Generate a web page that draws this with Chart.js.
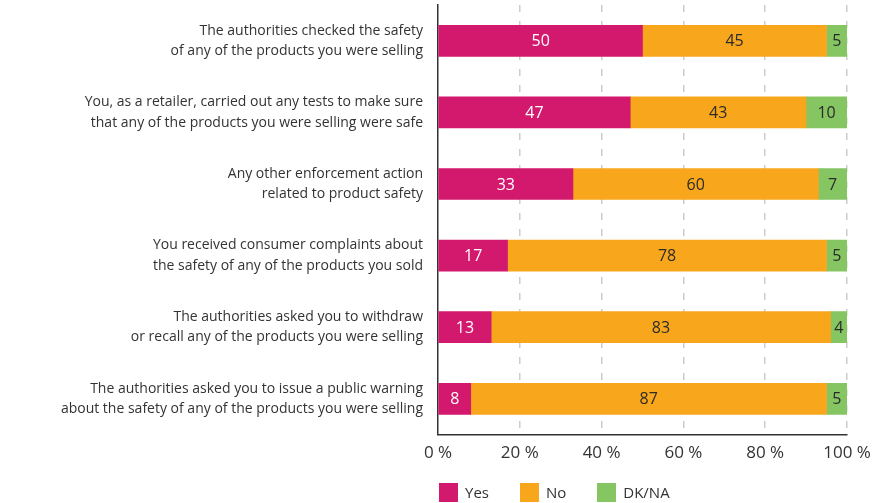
<!DOCTYPE html>
<html>
<head>
<meta charset="utf-8">
<script src="https://cdn.jsdelivr.net/npm/chart.js@4/dist/chart.umd.min.js"></script>
<style>
	body { margin: 0; background: #fff; }
	#wrap { position: relative; width: 892px; height: 503px; }
	#legend { position: absolute; left: 439px; top: 482px; display: flex; font-family: "Open Sans", sans-serif; font-size: 15px; color: #333; }
	#legend span.item { display: flex; align-items: center; margin-right: 31px; }
	#legend span.box { width: 19px; height: 19px; margin-right: 7px; display: inline-block; }
</style>
</head>
<body>
<div id="wrap">
	<canvas id="chart" width="892" height="503"></canvas>
	<div id="legend"></div>
</div>
<script>
const categories = [
	["The authorities checked the safety", "of any of the products you were selling"],
	["You, as a retailer, carried out any tests to make sure", "that any of the products you were selling were safe"],
	["Any other enforcement action", "related to product safety"],
	["You received consumer complaints about", "the safety of any of the products you sold"],
	["The authorities asked you to withdraw", "or recall any of the products you were selling"],
	["The authorities asked you to issue a public warning", "about the safety of any of the products you were selling"],
];
const yes = [50, 47, 33, 17, 13, 8];
const no = [45, 43, 60, 78, 83, 87];
const dkna = [5, 10, 7, 5, 4, 5];
const seriesNames = ["Yes", "No", "DK/NA"];
const seriesColors = ["#D3196E", "#F8A61C", "#85C562"];
const labelColors = ["#ffffff", "#2b2b2b", "#2b2b2b"];
const xTicks = [0, 20, 40, 60, 80, 100];

const FONT = "'Open Sans', sans-serif";

// draw the numbers in the middle of each segment
const valueLabels = {
	id: "valueLabels",
	afterDatasetsDraw(chart) {
		const ctx = chart.ctx;
		ctx.save();
		ctx.font = "16px " + FONT;
		ctx.textAlign = "center";
		ctx.textBaseline = "middle";
		chart.data.datasets.forEach((ds, i) => {
			const meta = chart.getDatasetMeta(i);
			meta.data.forEach((bar, j) => {
				ctx.fillStyle = labelColors[i];
				ctx.fillText(ds.data[j], (bar.x + bar.base) / 2, bar.y + 1);
			});
		});
		ctx.restore();
	},
};

const chartData = {
	labels: categories,
	datasets: [yes, no, dkna].map((d, i) => ({
		label: seriesNames[i],
		data: d,
		backgroundColor: seriesColors[i],
		barThickness: 31,
		borderWidth: 0,
	})),
};

new Chart(document.getElementById("chart"), {
	type: "bar",
	data: chartData,
	plugins: [valueLabels],
	options: {
		indexAxis: "y",
		responsive: false,
		animation: false,
		layout: { padding: { top: 5, right: 45, bottom: 32, left: 0 } },
		plugins: {
			legend: { display: false },
			tooltip: { enabled: false },
		},
		scales: {
			x: {
				stacked: true,
				min: 0,
				max: 100,
				afterBuildTicks: (scale) => {
					scale.ticks = xTicks.map((v) => ({ value: v }));
				},
				ticks: {
					callback: (v) => v + " %",
					color: "#333",
					font: { family: FONT, size: 17 },
					padding: 8,
					maxRotation: 0,
				},
				grid: {
					color: (c) => (c.index === 0 ? "rgba(0,0,0,0)" : "#cccccc"),
					lineWidth: 1.5,
					drawTicks: false,
				},
				border: { display: true, color: "#333", width: 1.5, dash: [7, 9] },
			},
			y: {
				stacked: true,
				afterFit: (scale) => {
					scale.width = 438;
					scale.paddingTop = 0;
					scale.paddingBottom = 0;
				},
				ticks: {
					color: "#333",
					font: { family: FONT, size: 14, lineHeight: 1.45 },
					padding: 15,
				},
				grid: { display: false, drawTicks: false },
				border: { display: true, color: "#333", width: 1.5 },
			},
		},
	},
});

const legend = document.getElementById("legend");
seriesNames.forEach((name, i) => {
	const item = document.createElement("span");
	item.className = "item";
	item.innerHTML = '<span class="box" style="background:' + seriesColors[i] + '"></span>' + name;
	legend.appendChild(item);
});
</script>
</body>
</html>
